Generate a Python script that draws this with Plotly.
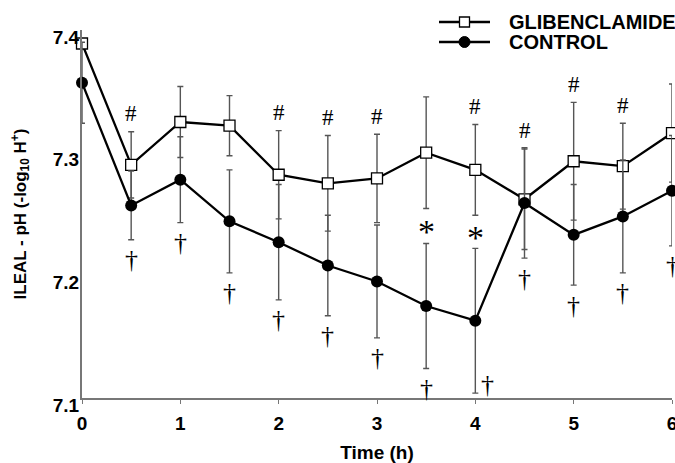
import plotly.graph_objects as go

time_h = [0, 0.5, 1, 1.5, 2, 2.5, 3, 3.5, 4, 4.5, 5, 5.5, 6]
glib_ph = [7.389, 7.290, 7.325, 7.322, 7.282, 7.275, 7.279, 7.300, 7.286, 7.262, 7.293, 7.289, 7.316]
glib_err = [0.004, 0.027, 0.029, 0.0245, 0.036, 0.039, 0.036, 0.0455, 0.037, 0.041, 0.048, 0.035, 0.040]
ctrl_ph = [7.357, 7.257, 7.278, 7.244, 7.227, 7.208, 7.195, 7.175, 7.163, 7.259, 7.233, 7.248, 7.269]
ctrl_err = [0.033, 0.028, 0.035, 0.042, 0.047, 0.041, 0.046, 0.051, 0.059, 0.045, 0.041, 0.046, 0.045]

hash_times = [0.5, 2, 2.5, 3, 4, 4.5, 5, 5.5]
star_times = [3.5, 4]
dagger_times = [0.5, 1, 1.5, 2, 2.5, 3, 3.5, 4, 4.5, 5, 5.5, 6]

series_names = ["GLIBENCLAMIDE", "CONTROL"]
x_ticks = [0, 1, 2, 3, 4, 5, 6]
y_ticks = [7.1, 7.2, 7.3, 7.4]

SANS = "Liberation Sans, Arial, sans-serif"
SERIF = "Liberation Serif, Times New Roman, serif"

W, H = 675, 463
ML, MR, MT, MB = 82, 3, 30, 65
PW, PH = W - ML - MR, H - MT - MB


def px_x(px):
    return (px - ML) / PW


def px_y(py):
    return (H - MB - py) / PH


fig = go.Figure()
fig.add_trace(go.Scatter(
    x=time_h, y=glib_ph, name=series_names[0], mode="lines+markers",
    line=dict(color="black", width=2.3),
    marker=dict(symbol="square", size=11, color="white", line=dict(color="black", width=1.3)),
    error_y=dict(type="data", array=glib_err, visible=True, color="#555555", thickness=1.4, width=3),
    cliponaxis=False, showlegend=False,
))
fig.add_trace(go.Scatter(
    x=time_h, y=ctrl_ph, name=series_names[1], mode="lines+markers",
    line=dict(color="black", width=2.3),
    marker=dict(symbol="circle", size=12, color="black"),
    error_y=dict(type="data", array=ctrl_err, visible=True, color="#555555", thickness=1.4, width=3),
    cliponaxis=False, showlegend=False,
))

anns = []
idx = {t: i for i, t in enumerate(time_h)}
for t in hash_times:
    i = idx[t]
    anns.append(dict(x=t, y=glib_ph[i] + glib_err[i], text="#", showarrow=False,
                     yshift=18, font=dict(family=SERIF, size=23, color="black")))
for t in star_times:
    i = idx[t]
    mid = ((glib_ph[i] - glib_err[i]) + (ctrl_ph[i] + ctrl_err[i])) / 2
    anns.append(dict(x=t, y=mid, text="*", showarrow=False, yshift=-6,
                     font=dict(family=SERIF, size=34, color="black")))
for t in dagger_times:
    i = idx[t]
    low = ctrl_ph[i] - ctrl_err[i]
    if low - 0.012 < y_ticks[0]:
        anns.append(dict(x=t, y=low, text="†", showarrow=False, xshift=12, yshift=9,
                         font=dict(family=SERIF, size=26, color="black")))
    else:
        anns.append(dict(x=t, y=low, text="†", showarrow=False, yshift=-20,
                         font=dict(family=SERIF, size=26, color="black")))

# legend (drawn by hand to match the reference's compact layout)
shapes = []
leg_rows = [22, 42]
for k, py in enumerate(leg_rows):
    yy = px_y(py)
    shapes.append(dict(type="line", xref="paper", yref="paper", x0=px_x(439), x1=px_x(490),
                       y0=yy, y1=yy, line=dict(color="black", width=2.3)))
    cx = px_x(464.5)
    if k == 0:
        shapes.append(dict(type="rect", xref="paper", yref="paper",
                           x0=cx - 5 / PW, x1=cx + 5 / PW, y0=yy - 5 / PH, y1=yy + 5 / PH,
                           fillcolor="white", line=dict(color="black", width=1.3)))
    else:
        shapes.append(dict(type="circle", xref="paper", yref="paper",
                           x0=cx - 5.5 / PW, x1=cx + 5.5 / PW, y0=yy - 5.5 / PH, y1=yy + 5.5 / PH,
                           fillcolor="black", line=dict(color="black", width=1)))
    anns.append(dict(x=px_x(507), y=yy, xref="paper", yref="paper", xanchor="left", yanchor="middle",
                     text="<b>%s</b>" % series_names[k], showarrow=False,
                     font=dict(family=SANS, size=20, color="black")))

fig.update_layout(
    width=W, height=H,
    margin=dict(l=ML, r=MR, t=MT, b=MB, autoexpand=False),
    paper_bgcolor="white", plot_bgcolor="white",
    showlegend=False,
    annotations=anns, shapes=shapes,
    font=dict(family=SANS, color="black"),
)
fig.update_xaxes(
    range=[0, 6], tickvals=x_ticks, ticktext=[str(v) for v in x_ticks],
    showline=True, linecolor="#777777", linewidth=2, ticks="outside", ticklen=4,
    tickcolor="#777777", showgrid=False, zeroline=False, automargin=False,
    tickfont=dict(family=SANS, size=19, color="black", weight="bold"),
    ticklabelstandoff=3, ticklabeloverflow="allow",
    title=dict(text="<b>Time (h)</b>", font=dict(family=SANS, size=19, color="black"), standoff=14),
)
fig.update_yaxes(
    range=[7.1, 7.4], tickvals=y_ticks, ticktext=[f"{v:.1f}" for v in y_ticks],
    showline=True, linecolor="#777777", linewidth=2, ticks="", showgrid=False, zeroline=False,
    automargin=False,
    tickfont=dict(family=SANS, size=19, color="black", weight="bold"),
    ticklabelshift=7, ticklabelstandoff=-3, ticklabeloverflow="allow",
    title=dict(text="<b>ILEAL - pH (-log<sub>10</sub> H<sup>+</sup>)</b>",
               font=dict(family=SANS, size=17, color="black"), standoff=22),
)

fig.write_html("out.html")
